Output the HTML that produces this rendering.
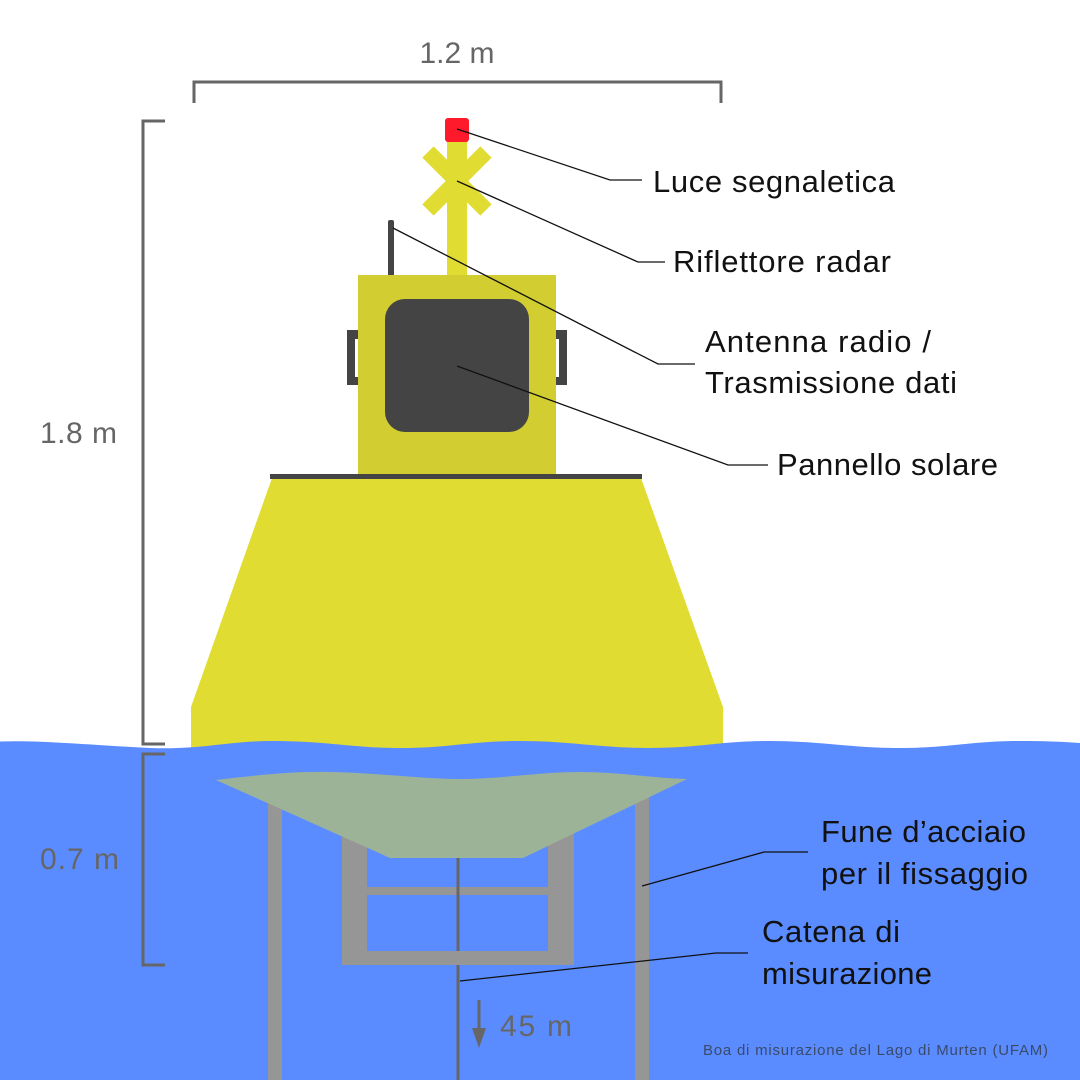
<!DOCTYPE html>
<html><head><meta charset="utf-8"><style>
html,body{margin:0;padding:0;background:#fff}
svg{display:block}
text{font-family:"Liberation Sans",sans-serif}
</style></head><body>
<svg width="1080" height="1080" viewBox="0 0 1080 1080" xmlns="http://www.w3.org/2000/svg">
<rect width="1080" height="1080" fill="#fff"/>
<polyline points="194,103 194,82 721,82 721,103" fill="none" stroke="#666" stroke-width="3"/>
<text x="457" y="63" font-size="30" fill="#666" text-anchor="middle">1.2 m</text>
<rect x="447" y="140" width="20" height="140" fill="#e0dc32"/>
<line x1="428" y1="152" x2="486" y2="210" stroke="#e0dc32" stroke-width="16"/>
<line x1="486" y1="152" x2="428" y2="210" stroke="#e0dc32" stroke-width="16"/>
<rect x="445" y="118" width="24" height="24" rx="3" fill="#ff1a2b"/>
<rect x="388" y="220" width="6" height="58" rx="2" fill="#444"/>
<rect x="347" y="330" width="12" height="55" fill="#444"/>
<rect x="355" y="339" width="4" height="38" fill="#fff"/>
<rect x="555" y="330" width="12" height="55" fill="#444"/>
<rect x="555" y="339" width="4" height="38" fill="#fff"/>
<rect x="358" y="275" width="198" height="200" fill="#d2cd30"/>
<rect x="385" y="299" width="144" height="133" rx="20" fill="#444"/>
<polygon points="272,478 641,478 723,707 723,760 191,760 191,707" fill="#e0dc32"/>
<rect x="270" y="474" width="372" height="5" fill="#444"/>
<polyline points="165,121 143,121 143,744 165,744" fill="none" stroke="#666" stroke-width="3"/>
<text x="40" y="443" font-size="30" fill="#666" textLength="77">1.8 m</text>
<path d="M0,741.5 C40,740 90,745 150,748 C200,750 230,741 270,741 C330,741 350,748 400,748 C450,748 470,741 520,741 C570,741 600,748 650,748 C700,748 720,741 770,741 C820,741 850,748 900,748 C950,748 970,741 1020,741 C1050,741 1065,742 1080,743 L1080,1080 L0,1080 Z" fill="#5a8cff"/>
<polyline points="165,754 143,754 143,965 165,965" fill="none" stroke="#666" stroke-width="3"/>
<text x="40" y="869" font-size="30" fill="#666" textLength="79">0.7 m</text>
<rect x="268" y="790" width="14" height="290" fill="#969696"/>
<rect x="635" y="790" width="14" height="290" fill="#969696"/>
<rect x="342" y="830" width="25" height="135" fill="#969696"/>
<rect x="548" y="830" width="26" height="135" fill="#969696"/>
<rect x="367" y="887" width="181" height="8" fill="#969696"/>
<rect x="456.5" y="850" width="3" height="230" fill="#666"/>
<rect x="342" y="951" width="232" height="14" fill="#969696"/>
<path d="M216,780 C250,776 290,771 330,772 C380,773 420,779 460,779 C500,779 540,772 580,772 C620,772 650,778 687,779 L523,858 L390,858 Z" fill="#9db398"/>
<line x1="479" y1="1000" x2="479" y2="1032" stroke="#666" stroke-width="3"/>
<polygon points="472,1028 486,1028 479,1048" fill="#666"/>
<text x="500" y="1036" font-size="30" fill="#666" textLength="72">45 m</text>
<g fill="none" stroke="#111" stroke-width="1.3">
<polyline points="457,129 610,180 642,180"/>
<polyline points="457,181 638,262 665,262"/>
<polyline points="393,228 658,364 695,364"/>
<polyline points="457,366 728,465 768,465"/>
<polyline points="642,886 764,852 808,852"/>
<polyline points="460,981 716,953 748,953"/>
</g>
<g font-size="31" fill="#111">
<text x="653" y="192" textLength="242">Luce segnaletica</text>
<text x="673" y="272" textLength="218">Riflettore radar</text>
<text x="705" y="352" textLength="226">Antenna radio /</text>
<text x="705" y="393" textLength="252">Trasmissione dati</text>
<text x="777" y="475" textLength="221">Pannello solare</text>
<text x="821" y="842" textLength="205">Fune d’acciaio</text>
<text x="821" y="884" textLength="207">per il fissaggio</text>
<text x="762" y="942" textLength="138">Catena di</text>
<text x="762" y="984" textLength="170">misurazione</text>
</g>
<text x="703" y="1055" font-size="15" fill="#3a4a6a" textLength="345">Boa di misurazione del Lago di Murten (UFAM)</text>
</svg>
</body></html>
